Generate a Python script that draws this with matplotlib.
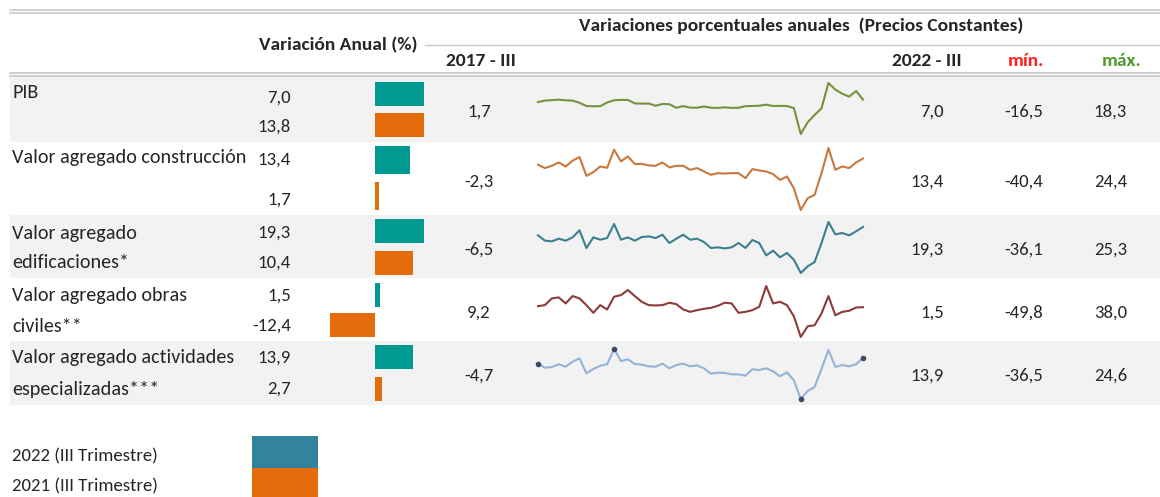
import matplotlib
matplotlib.use("Agg")
import matplotlib.pyplot as plt
from matplotlib.patches import Rectangle

W, H = 1160, 497

# ---- data ----
row_labels = [["PIB"],
              ["Valor agregado construcción"],
              ["Valor agregado", "edificaciones*"],
              ["Valor agregado obras", "civiles**"],
              ["Valor agregado actividades", "especializadas***"]]
var_2022 = [7.0, 13.4, 19.3, 1.5, 13.9]
var_2021 = [13.8, 1.7, 10.4, -12.4, 2.7]
val_2017_iii = [1.7, -2.3, -6.5, 9.2, -4.7]
val_2022_iii = [7.0, 13.4, 19.3, 1.5, 13.9]
val_min = [-16.5, -40.4, -36.1, -49.8, -36.5]
val_max = [18.3, 24.4, 25.3, 38.0, 24.6]
legend_labels = ["2022 (III Trimestre)", "2021 (III Trimestre)"]

# quarterly annual variation, 2010-IV .. 2022-III
pib = [5.3, 6.3, 6.6, 6.9, 6.5, 6.3, 4.8, 2.6, 2.4, 2.5, 5.0, 6.5, 6.8, 6.7, 4.4, 4.2,
       4.3, 2.8, 4.0, 3.8, 1.4, 2.5, 1.5, 1.4, 2.3, 1.4, 1.3, 1.7, 1.3, 1.4, 2.5, 2.6,
       2.8, 3.5, 2.6, 2.7, 2.6, 1.2, -16.5, -8.5, -3.5, 1.0, 18.3, 13.8, 11.0, 9.0, 12.8, 7.0]
construccion = [6.9, 3.4, 5.8, 9.3, 5.1, 11.1, 15.0, -4.7, -0.8, 5.1, 3.7, 22.6, 10.4, 15.6, 7.6, 7.9,
                6.2, 5.8, 9.3, 4.1, 5.8, 5.8, 1.6, 3.4, -0.1, -3.6, -1.9, -2.3, -1.9, -1.9, -7.1, 2.3,
                0.9, -0.1, -2.9, -8.9, -5.4, -17.6, -40.4, -28.1, -24.6, -1.9, 24.4, 1.7, 5.1, 3.4, 9.3, 13.4]
edificaciones = [9.2, 2.8, 2.0, 5.2, 2.8, 6.8, 15.3, -6.0, 6.8, 4.0, 6.0, 22.9, 4.0, 6.8, 2.8, 7.2,
                 8.0, 6.0, 10.0, 0.0, 5.2, 10.0, 4.0, 5.2, 1.2, -6.0, -5.2, -6.5, -5.2, 0.0, -6.0, 3.6,
                 0.0, -14.9, -9.2, -17.3, -12.0, -20.1, -36.1, -28.1, -22.9, 0.0, 25.3, 10.4, 12.0, 9.2, 14.1, 19.3]
obras_civiles = [3.3, 5.1, 16.6, 18.4, 8.0, 20.7, 16.6, 5.1, -8.2, 5.1, -2.4, 19.5, 22.4, 31.1, 20.7, 10.8,
                 5.1, 4.5, 5.1, 9.1, 6.8, -2.4, -6.5, -3.6, -1.3, 0.4, 3.9, 9.2, 8.0, -8.2, -6.5, -3.6,
                 2.2, 38.0, 8.0, 10.8, 5.1, -14.0, -49.8, -31.3, -29.6, -9.4, 20.7, -12.4, -6.5, -4.7, 1.0, 1.5]
especializadas = [6.3, 1.8, 2.6, 5.9, 3.0, 9.1, 13.2, -5.1, 0.2, 4.2, 5.9, 24.6, 9.9, 12.0, 6.3, 5.5,
                  3.4, 3.0, 6.7, 1.0, 5.0, 6.7, 3.4, 4.6, 1.0, -5.5, -4.3, -4.7, -6.4, -6.4, -8.0, -0.2,
                  -1.1, 1.0, -2.7, -8.8, -3.9, -13.7, -36.5, -26.7, -21.8, 0.2, 23.4, 2.7, 5.0, 3.4, 5.9, 13.9]
series = [pib, construccion, edificaciones, obras_civiles, especializadas]

# ---- style / layout (pixels) ----
spark_colors = ["#76923c", "#c8783c", "#3b7f8f", "#8c3b3b", "#95b3d7"]
teal, orange, teal_leg = "#009a93", "#e46c0a", "#31849b"
band = "#f2f2f2"
txt = "#262626"
bands = [(75, 142), (142, 215), (215, 278), (278, 341), (341, 405)]
val_y = [(98, 127), (160, 200), (233, 263), (296, 326), (358, 389)]
lab_y = [(92,), (158,), (233, 263), (296, 326), (358, 389)]
bar_c = [(94, 125), (160, 196), (231, 263), (295, 325), (357, 389)]
bar_full = [7.0, 18.8, 13.4, 13.6, 18.1]    # value at full bar width per row
spark_y = [(83, 134), (148, 210), (222, 273), (286, 337), (349, 399)]

FONT = ["Carlito", "DejaVu Sans"]
plt.rcParams["font.family"] = FONT


def fmt(v):
    return f"{v:.1f}".replace(".", ",")


def px_rect(x0, y0, x1, y1):
    return [x0 / W, 1 - y1 / H, (x1 - x0) / W, (y1 - y0) / H]


fig = plt.figure(figsize=(W / 100, H / 100), dpi=100)
base = fig.add_axes([0, 0, 1, 1])
base.set_xlim(0, W)
base.set_ylim(H, 0)
base.axis("off")

# header rules
for y in (10, 13, 73, 76):
    base.plot([10, W], [y, y], color="#c8c8c8", lw=1.2)
base.plot([425, W], [45, 45], color="#c8c8c8", lw=1.0)

hdr = dict(ha="center", va="center", fontsize=14, fontweight="bold", color=txt)
base.text(338, 45, "Variación Anual (%)", **hdr)
base.text(801, 26, "Variaciones porcentuales anuales  (Precios Constantes)", **hdr)
base.text(481, 61, "2017 - III", **hdr)
base.text(927, 61, "2022 - III", **hdr)
base.text(1026, 61, "mín.", **{**hdr, "color": "#ff2020"})
base.text(1122, 61, "máx.", **{**hdr, "color": "#4e9a2a"})

num = dict(va="center", fontsize=13.5, color=txt)
for i in range(5):
    y0, y1 = bands[i]
    if i % 2 == 0:
        base.add_patch(Rectangle((10, y0), W - 10, y1 - y0, color=band, lw=0, zorder=0))
    for line, y in zip(row_labels[i], lab_y[i]):
        base.text(12, y, line, ha="left", va="center", fontsize=14.5, color=txt)
    base.text(291, val_y[i][0], fmt(var_2022[i]), ha="right", **num)
    base.text(291, val_y[i][1], fmt(var_2021[i]), ha="right", **num)
    yc = (y0 + y1) / 2 + 3
    base.text(479, yc, fmt(val_2017_iii[i]), ha="center", **num)
    base.text(944, yc, fmt(val_2022_iii[i]), ha="right", **num)
    base.text(1043, yc, fmt(val_min[i]), ha="right", **num)
    base.text(1127, yc, fmt(val_max[i]), ha="right", **num)

    # data bars
    c0, c1 = bar_c[i]
    d = c1 - c0
    bx = fig.add_axes(px_rect(327, c0 - d / 2, 424, c1 + d / 2))
    bx.barh([0, 1], [var_2022[i], var_2021[i]], height=0.78, color=[teal, orange])
    bx.set_xlim(-bar_full[i] * 48 / 49, bar_full[i])
    bx.set_ylim(1.5, -0.5)
    bx.axis("off")
    bx.patch.set_alpha(0)

    # sparkline
    sy0, sy1 = spark_y[i]
    sx = fig.add_axes(px_rect(538, sy0, 863, sy1))
    s = series[i]
    sx.plot(range(len(s)), s, color=spark_colors[i], lw=1.5, clip_on=False)
    if i == 4:
        pts = [0, s.index(max(s)), s.index(min(s)), len(s) - 1]
        sx.plot(pts, [s[p] for p in pts], "o", ms=3, color="#3c4a66", clip_on=False)
    sx.set_xlim(0, len(s) - 1)
    sx.set_ylim(val_min[i], val_max[i])
    sx.axis("off")
    sx.patch.set_alpha(0)

# legend
for k, (lab, col, y) in enumerate(zip(legend_labels, [teal_leg, orange], [456, 486])):
    base.text(12, y, lab, ha="left", va="center", fontsize=13.5, color=txt)
    base.add_patch(Rectangle((252, 436 + 32 * k), 66, 32, color=col, lw=0))

fig.savefig("out.png", dpi=100)
